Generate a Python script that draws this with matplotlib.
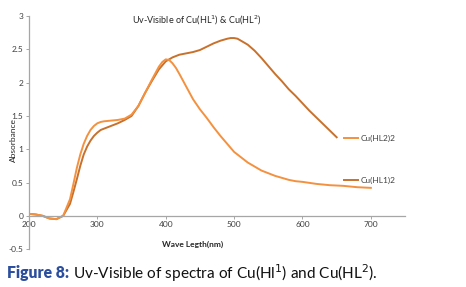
import numpy as np
from matplotlib import pyplot as plt

# wavelength (nm) and absorbance
wl_hl2 = [200, 210, 220, 230, 240, 250, 260, 265, 270, 275, 280, 285, 290, 295, 300, 305, 310, 320,
          330, 340, 350, 360, 370, 380, 390, 395, 400, 405, 410, 415, 420, 430, 440, 450, 460, 470,
          480, 490, 500, 510, 520, 530, 540, 550, 560, 570, 580, 590, 600, 620, 640, 660, 680, 700]
abs_hl2 = [0.03, 0.02, 0.0, -0.04, -0.05, 0.0, 0.25, 0.48, 0.72, 0.92, 1.08, 1.2, 1.29, 1.35, 1.39, 1.41, 1.42, 1.43,
           1.44, 1.46, 1.52, 1.65, 1.85, 2.05, 2.24, 2.31, 2.35, 2.34, 2.29, 2.22, 2.13, 1.94, 1.75, 1.6, 1.47, 1.33,
           1.2, 1.08, 0.96, 0.88, 0.8, 0.74, 0.68, 0.64, 0.6, 0.57, 0.54, 0.52, 0.51, 0.48, 0.46, 0.45, 0.43, 0.42]

wl_hl1 = [200, 210, 220, 230, 240, 250, 260, 265, 270, 275, 280, 285, 290, 295, 300, 305, 310, 320,
          330, 340, 350, 360, 370, 380, 390, 400, 410, 420, 430, 440, 450, 460, 470, 480, 490, 495,
          500, 505, 510, 520, 530, 540, 550, 560, 570, 580, 590, 600, 610, 620, 630, 640, 650]
abs_hl1 = [0.03, 0.02, 0.0, -0.04, -0.05, 0.0, 0.18, 0.36, 0.55, 0.75, 0.92, 1.04, 1.13, 1.2, 1.25, 1.29, 1.31, 1.35,
           1.39, 1.44, 1.5, 1.65, 1.85, 2.03, 2.2, 2.32, 2.38, 2.42, 2.44, 2.46, 2.49, 2.54, 2.59, 2.63, 2.66, 2.67,
           2.67, 2.66, 2.63, 2.57, 2.48, 2.37, 2.25, 2.13, 2.02, 1.9, 1.8, 1.69, 1.58, 1.48, 1.38, 1.28, 1.18]

x_ticks = [200, 300, 400, 500, 600, 700]
y_ticks = [-0.5, 0, 0.5, 1, 1.5, 2, 2.5, 3]
y_ticklabels = ['-0.5', '0', '0.5', '1', '1.5', '2', '2.5', '3']

light = '#F4913F'
dark = '#C8712C'
grey = '#A6A6A6'

plt.rcParams['font.family'] = ['Lato', 'DejaVu Sans']

fig = plt.figure(figsize=(4.66, 2.87), dpi=100)
ax = fig.add_axes([0.0622, 0.132, 0.807, 0.812])

ax.plot(wl_hl1, abs_hl1, color=dark, lw=1.4, solid_joinstyle='round')
ax.plot(wl_hl2, abs_hl2, color=light, lw=1.4, solid_joinstyle='round')

ax.set_xlim(200, 750)
ax.set_ylim(-0.5, 3)
ax.spines['top'].set_visible(False)
ax.spines['right'].set_visible(False)
ax.spines['bottom'].set_position(('data', 0))
for s in ['left', 'bottom']:
    ax.spines[s].set_color(grey)
    ax.spines[s].set_linewidth(0.9)

ax.set_xticks(x_ticks)
ax.set_yticks(y_ticks)
ax.set_yticklabels(y_ticklabels)
ax.tick_params(axis='both', labelsize=6, colors='#404040', length=2.5, width=0.7, pad=1.5)
ax.tick_params(axis='x', direction='out', color=grey)
ax.tick_params(axis='y', direction='out', color=grey)

# legend entries placed next to line ends
ax.plot([0.838, 0.875], [0.476, 0.476], transform=ax.transAxes, color=light, lw=1.4, clip_on=False)
ax.text(0.882, 0.476, 'Cu(HL2)2', transform=ax.transAxes, fontsize=6, va='center', color='#404040')
ax.plot([0.838, 0.875], [0.296, 0.296], transform=ax.transAxes, color=dark, lw=1.4, clip_on=False)
ax.text(0.882, 0.296, 'Cu(HL1)2', transform=ax.transAxes, fontsize=6, va='center', color='#404040')

fig.text(197 / 466, 1 - 20 / 287, r'Uv-Visible of Cu(HL$^{1}$) & Cu(HL$^{2}$)',
         fontsize=6.5, ha='center', va='center', color='#262626')
fig.text(193 / 466, 1 - 244 / 287, 'Wave Legth(nm)', fontsize=6, ha='center', va='center',
         color='#262626', fontweight='bold')
fig.text(13 / 466, 1 - 140 / 287, 'Absorbance', fontsize=6, rotation=90, ha='center', va='center',
         color='#262626')

cap_y = 1 - 273 / 287
t1 = fig.text(7 / 466, cap_y, 'Figure 8:', fontsize=11.3, fontweight='heavy', color='#2B4F9E',
              ha='left', va='center')
fig.canvas.draw()
bb = t1.get_window_extent()
fig.text(bb.x1 / 466 + 0.008, cap_y, r'Uv-Visible of spectra of Cu(Hl$^{1}$) and Cu(HL$^{2}$).',
         fontsize=11.1, color='#111111', ha='left', va='center')

fig.savefig('out.png', dpi=100)
